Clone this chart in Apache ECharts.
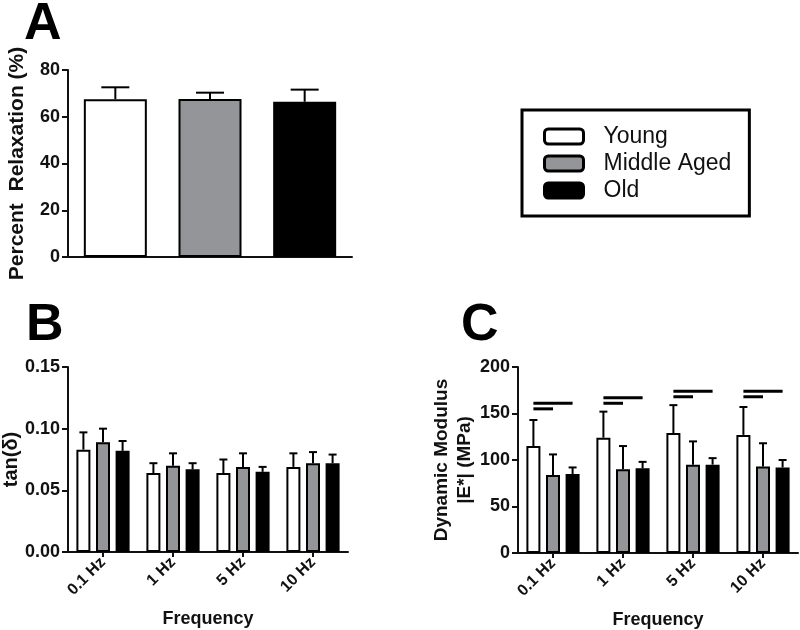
<!DOCTYPE html>
<html><head><meta charset="utf-8">
<script src="https://cdn.jsdelivr.net/npm/echarts@6/dist/echarts.min.js"></script>
<style>html,body{margin:0;padding:0;background:#fff}#c{width:800px;height:630px}</style>
</head><body><div id="c"></div>
<script>
// ---- data ----
const groups = ['Young', 'Middle Aged', 'Old'];
const freqs = ['0.1 Hz', '1 Hz', '5 Hz', '10 Hz'];
const relaxMean = [67.5, 67.6, 66.4];
const relaxSD = [5.1, 2.7, 5.2];
const tanYoung = [0.083, 0.064, 0.064, 0.069];
const tanYoungSD = [0.014, 0.008, 0.011, 0.011];
const tanMid = [0.089, 0.070, 0.069, 0.072];
const tanMidSD = [0.011, 0.010, 0.011, 0.009];
const tanOld = [0.082, 0.067, 0.065, 0.072];
const tanOldSD = [0.008, 0.005, 0.004, 0.007];
const modYoung = [115, 124, 129, 127];
const modYoungSD = [28, 28, 30, 30];
const modMid = [84, 90, 95, 93];
const modMidSD = [22, 25, 25, 25];
const modOld = [85, 91, 95, 92];
const modOldSD = [7, 7, 7, 8];
const sigShort = [155, 161, 168, 168];  // Young vs Middle Aged
const sigLong = [161, 167, 174, 174];   // Young vs Old
const yTicksA = {min: 0, max: 80, interval: 20};
const yTicksB = {min: 0, max: 0.15, interval: 0.05};
const yTicksC = {min: 0, max: 200, interval: 50};

// ---- style ----
const colors = ['#ffffff', '#939598', '#000000'];
const FONT = 'Liberation Sans, Arial, sans-serif';
const BW = 14, GAP = 0.4;
const offs = [-(BW + BW * GAP), 0, (BW + BW * GAP)];

const chart = echarts.init(document.getElementById('c'));

function errRender(offset, capW) {
  return function (params, api) {
    const i = api.value(0), m = api.value(1), s = api.value(2);
    const x = api.coord([i, 0])[0] + offset;
    const yb = api.coord([i, m])[1];
    const yt = api.coord([i, m + s])[1];
    const st = {stroke: '#000', lineWidth: 2};
    return {type: 'group', children: [
      {type: 'line', shape: {x1: x, y1: yb, x2: x, y2: yt}, style: st},
      {type: 'line', shape: {x1: x - capW / 2, y1: yt, x2: x + capW / 2, y2: yt}, style: st}
    ]};
  };
}
function sigRender(endOffset) {
  return function (params, api) {
    const i = api.value(0), v = api.value(1);
    const c = api.coord([i, v]);
    return {type: 'line', shape: {x1: c[0] + offs[0], y1: c[1], x2: c[0] + endOffset, y2: c[1]},
      style: {stroke: '#000', lineWidth: 3}};
  };
}
const axisLine = {show: true, lineStyle: {color: '#111', width: 2}};
const yLabel = {fontFamily: FONT, fontWeight: 'bold', fontSize: 18, color: '#111', margin: 8};
const nameStyle = {fontFamily: FONT, fontWeight: 'bold', fontSize: 20, color: '#111'};

function catAxis(gi, show) {
  return {
    type: 'category', gridIndex: gi, data: gi === 0 ? groups : freqs,
    axisLine: axisLine,
    axisTick: {show: show, alignWithLabel: true, length: 5, lineStyle: {color: '#111', width: 2}},
    axisLabel: show ? {rotate: 45, fontFamily: FONT, fontWeight: 'bold', fontSize: 16, color: '#111', margin: 8} : {show: false},
    name: show ? 'Frequency' : '', nameLocation: 'middle', nameGap: 58,
    nameTextStyle: Object.assign({}, nameStyle, {fontSize: 18})
  };
}
function valAxis(gi, t, name, gap, fmt, extraName) {
  return Object.assign({
    type: 'value', gridIndex: gi, axisLine: axisLine,
    axisTick: {show: true, length: 6, lineStyle: {color: '#111', width: 2}},
    splitLine: {show: false},
    axisLabel: Object.assign({}, yLabel, fmt ? {formatter: fmt} : {}),
    name: name, nameLocation: 'middle', nameGap: gap,
    nameTextStyle: Object.assign({}, nameStyle, extraName || {})
  }, t);
}

const series = [];
// Panel A
series.push({
  type: 'bar', name: 'relax', xAxisIndex: 0, yAxisIndex: 0, barWidth: 63,
  data: relaxMean.map((v, i) => ({value: v, itemStyle: {color: colors[i], borderColor: '#000', borderWidth: 2}})),
  z: 2
});
series.push({
  type: 'custom', name: 'relaxErr', xAxisIndex: 0, yAxisIndex: 0, z: 3,
  renderItem: errRender(0, 28), encode: {x: 0, y: 1},
  data: relaxMean.map((v, i) => [i, v, relaxSD[i]])
});
const bData = [[tanYoung, tanYoungSD], [tanMid, tanMidSD], [tanOld, tanOldSD]];
const cData = [[modYoung, modYoungSD], [modMid, modMidSD], [modOld, modOldSD]];
[[bData, 1], [cData, 2]].forEach(([d, gi]) => {
  d.forEach(([m, s], k) => {
    series.push({
      type: 'bar', name: groups[k], xAxisIndex: gi, yAxisIndex: gi, barWidth: BW, barGap: (GAP * 100) + '%',
      itemStyle: {color: colors[k], borderColor: '#000', borderWidth: 2}, data: m, z: 2
    });
  });
  d.forEach(([m, s], k) => {
    series.push({
      type: 'custom', name: 'err' + gi + k, xAxisIndex: gi, yAxisIndex: gi, z: 3,
      renderItem: errRender(offs[k], 8), encode: {x: 0, y: 1},
      data: m.map((v, i) => [i, v, s[i]])
    });
  });
});
series.push({
  type: 'custom', name: 'sigShort', xAxisIndex: 2, yAxisIndex: 2, z: 4,
  renderItem: sigRender(offs[1]), encode: {x: 0, y: 1},
  data: sigShort.map((v, i) => [i, v])
});
series.push({
  type: 'custom', name: 'sigLong', xAxisIndex: 2, yAxisIndex: 2, z: 4,
  renderItem: sigRender(offs[2]), encode: {x: 0, y: 1},
  data: sigLong.map((v, i) => [i, v])
});

const panelTitle = (t, l, tp) => ({text: t, left: l, top: tp, padding: 0,
  textStyle: {fontFamily: FONT, fontWeight: 'bold', fontSize: 52, color: '#000'}});

chart.setOption({
  animation: false,
  backgroundColor: '#fff',
  title: [panelTitle('A', 24, -1), panelTitle('B', 26, 300), panelTitle('C', 461, 300)],
  grid: [
    {left: 68, top: 70, width: 284, height: 187, outerBoundsMode: 'none', containLabel: false},
    {left: 68, top: 367, width: 280, height: 185, outerBoundsMode: 'none', containLabel: false},
    {left: 518, top: 367, width: 280, height: 186, outerBoundsMode: 'none', containLabel: false}
  ],
  xAxis: [catAxis(0, false), catAxis(1, true), catAxis(2, true)],
  yAxis: [
    valAxis(0, yTicksA, 'Percent  Relaxation (%)', 40, null, {fontSize: 21}),
    valAxis(1, yTicksB, 'tan(δ)', 46, v => v.toFixed(2)),
    valAxis(2, yTicksC, 'Dynamic Modulus\n|E*| (MPa)', 41, null, {fontSize: 19, lineHeight: 23})
  ],
  legend: {
    data: groups, orient: 'vertical', left: 522, top: 110,
    padding: [15, 18, 14, 21], borderColor: '#000', borderWidth: 3, borderRadius: 0,
    itemWidth: 39, itemHeight: 15, itemGap: 4, icon: 'roundRect',
    itemStyle: {borderColor: '#000', borderWidth: 3},
    textStyle: {fontFamily: FONT, fontSize: 23, color: '#111', padding: [0, 0, 0, 15]}
  },
  series: series
});
</script></body></html>
